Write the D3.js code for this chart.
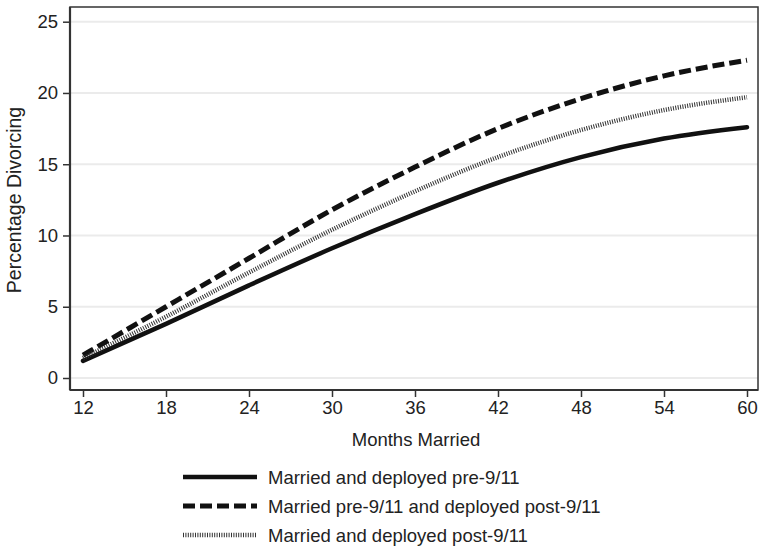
<!DOCTYPE html>
<html>
<head>
<meta charset="utf-8">
<script src="https://cdn.jsdelivr.net/npm/d3@7"></script>
<style>
  body { margin: 0; background: #fff; }
  text { font-family: "Liberation Sans", Arial, sans-serif; fill: #222; }
</style>
</head>
<body>
<svg width="760" height="547"></svg>
<script>
// months on the x axis
const months = [12, 18, 24, 30, 36, 42, 48, 54, 60];
// percentage divorcing, one list per group
const preDeployed = [1.2, 3.8, 6.5, 9.1, 11.5, 13.7, 15.5, 16.8, 17.6];
const prePostDeployed = [1.6, 5.0, 8.4, 11.8, 14.8, 17.5, 19.6, 21.2, 22.3];
const postDeployed = [1.4, 4.3, 7.4, 10.4, 13.1, 15.5, 17.4, 18.8, 19.7];
const seriesNames = [
    'Married and deployed pre-9/11',
    'Married pre-9/11 and deployed post-9/11',
    'Married and deployed post-9/11'
];
const xTicks = [12, 18, 24, 30, 36, 42, 48, 54, 60];
const yTicks = [0, 5, 10, 15, 20, 25];

const series = [
    { name: seriesNames[0], values: preDeployed, dash: null, width: 4.5, color: '#111' },
    { name: seriesNames[1], values: prePostDeployed, dash: '12,5', width: 5, color: '#111' },
    { name: seriesNames[2], values: postDeployed, dash: '1,1.4', width: 4.5, color: '#333' }
];

const svg = d3.select('svg');
const pLeft = 70, pRight = 758, pTop = 7, pBottom = 390;

const x = d3.scaleLinear().domain([12, 60]).range([83, 747]);
const y = d3.scaleLinear().domain([0, 25]).range([378, 21.7]);

// gridlines
svg.selectAll('.grid')
    .data(yTicks)
    .enter()
    .append('line')
    .attr('x1', pLeft).attr('x2', pRight)
    .attr('y1', d => y(d)).attr('y2', d => y(d))
    .attr('stroke', '#ebebeb')
    .attr('stroke-width', 2);

// frame
svg.append('rect')
    .attr('x', pLeft).attr('y', pTop)
    .attr('width', pRight - pLeft).attr('height', pBottom - pTop)
    .attr('fill', 'none')
    .attr('stroke', '#333')
    .attr('stroke-width', 1.5);

// axes
const xAxis = svg.append('g')
    .attr('transform', `translate(0,${pBottom})`)
    .call(d3.axisBottom(x).tickValues(xTicks).tickSize(7).tickPadding(4));
const yAxis = svg.append('g')
    .attr('transform', `translate(${pLeft},0)`)
    .call(d3.axisLeft(y).tickValues(yTicks).tickSize(7).tickPadding(5));

[xAxis, yAxis].forEach(g => {
    g.select('.domain').remove();
    g.selectAll('line').attr('stroke', '#333').attr('stroke-width', 1.5);
    g.selectAll('text').style('font-size', '18.5px').attr('fill', '#222');
});

// axis lines thicker on left and bottom
svg.append('line')
    .attr('x1', pLeft).attr('x2', pLeft).attr('y1', pTop).attr('y2', pBottom)
    .attr('stroke', '#333').attr('stroke-width', 2.2);
svg.append('line')
    .attr('x1', pLeft).attr('x2', pRight).attr('y1', pBottom).attr('y2', pBottom)
    .attr('stroke', '#333').attr('stroke-width', 2.2);

// lines
const line = d3.line()
    .x((d, i) => x(months[i]))
    .y(d => y(d))
    .curve(d3.curveMonotoneX);

svg.selectAll('.series')
    .data(series)
    .enter()
    .append('path')
    .attr('d', d => line(d.values))
    .attr('fill', 'none')
    .attr('stroke', d => d.color)
    .attr('stroke-width', d => d.width)
    .attr('stroke-dasharray', d => d.dash)
    .attr('stroke-linecap', d => d.dash ? 'butt' : 'round');

// axis titles
svg.append('text')
    .attr('x', 416).attr('y', 446)
    .attr('text-anchor', 'middle')
    .style('font-size', '18.5px')
    .text('Months Married');
svg.append('text')
    .attr('transform', 'translate(21,200) rotate(-90)')
    .attr('text-anchor', 'middle')
    .style('font-size', '19.5px')
    .text('Percentage Divorcing');

// legend
const legend = svg.selectAll('.legend')
    .data(series)
    .enter()
    .append('g')
    .attr('transform', (d, i) => `translate(0,${477 + i * 29})`);
legend.append('line')
    .attr('x1', 183).attr('x2', 257)
    .attr('stroke', d => d.color)
    .attr('stroke-width', d => d.width)
    .attr('stroke-dasharray', d => d.dash);
legend.append('text')
    .attr('x', 268).attr('y', 7)
    .style('font-size', '18.5px')
    .text(d => d.name);
</script>
</body>
</html>
